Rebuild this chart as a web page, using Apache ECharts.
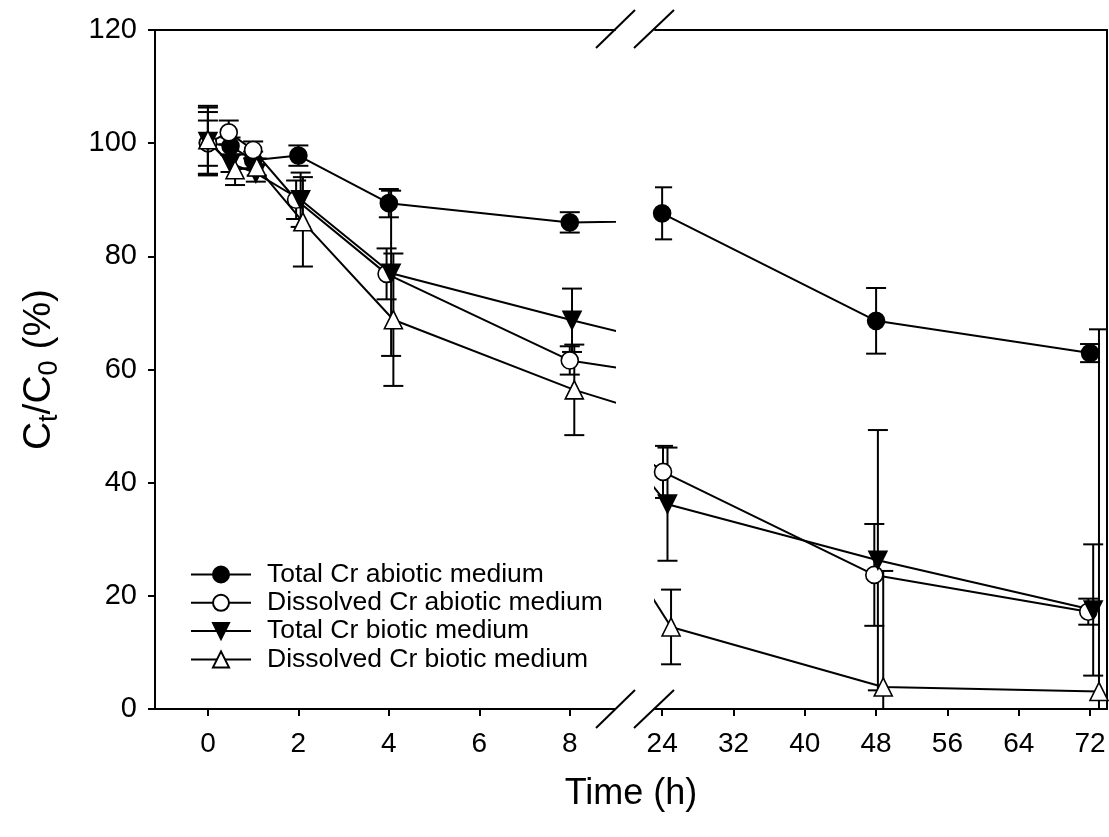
<!DOCTYPE html>
<html><head><meta charset="utf-8">
<script src="https://cdn.jsdelivr.net/npm/echarts@6/dist/echarts.min.js"></script>
<style>html,body{margin:0;padding:0;background:#fff}#c{width:1109px;height:837px}</style>
</head><body><div id="c"></div>
<script>
// ---- data ----
const seriesNames = ['Total Cr abiotic medium','Dissolved Cr abiotic medium','Total Cr biotic medium','Dissolved Cr biotic medium'];
const tTotAb  = [0, 0.5, 1, 2, 4, 8, 24, 48, 72];
const tDisAb  = [0, 0.46, 1, 1.95, 3.95, 8, 24.1, 47.8, 71.8];
const tTotBio = [0, 0.5, 1.06, 2.05, 4.05, 8.05, 24.6, 48.2, 72.35];
const tDisBio = [0, 0.6, 1.08, 2.1, 4.1, 8.1, 25.0, 48.8, 73.0];
const totAb     = [100, 99.5, 97, 97.8, 89.4, 86.0, 87.6, 68.6, 62.9];
const totAbErr  = [4, 1.5, 1.5, 1.8, 2.5, 1.8, 4.6, 5.8, 1.6];
const disAb     = [100, 101.9, 98.8, 90.0, 76.9, 61.6, 41.9, 23.7, 17.2];
const disAbErr  = [5.5, 2.1, 1.5, 3.4, 4.5, 2.5, 4.6, 9, 2.3];
const totBio    = [100.3, 96.4, 94.7, 90.0, 77.0, 68.7, 36.2, 26.3, 17.5];
const totBioErr = [6, 1.5, 1.5, 4.8, 14.6, 5.6, 10, 23, 11.6];
const disBio    = [100.6, 95.3, 95.8, 86.1, 68.8, 56.4, 14.5, 3.9, 3.1];
const disBioErr = [6, 2.7, 1.5, 7.9, 11.7, 8, 6.6, 20.5, 64];
const xTicksLeft  = [0, 2, 4, 6, 8];
const xTicksRight = [24, 32, 40, 48, 56, 64, 72];

const FONT = 'Arial, "Liberation Sans", sans-serif';
const sets = [
  {name: seriesNames[0], t: tTotAb, v: totAb, e: totAbErr, symbol: 'circle', rot: 0, fill: '#000', size: 17},
  {name: seriesNames[1], t: tDisAb, v: disAb, e: disAbErr, symbol: 'circle', rot: 0, fill: '#fff', size: 17},
  {name: seriesNames[2], t: tTotBio, v: totBio, e: totBioErr, symbol: 'triangle', rot: 180, fill: '#000', size: 18},
  {name: seriesNames[3], t: tDisBio, v: disBio, e: disBioErr, symbol: 'triangle', rot: 0, fill: '#fff', size: 18}
];

function errRender(params, api) {
  const x = api.value(0), y = api.value(1), e = api.value(2);
  const top = api.coord([x, y + e]);
  const bot = api.coord([x, y - e]);
  const h = 10;
  const st = {stroke: '#000', lineWidth: 2};
  return {type: 'group', children: [
    {type: 'line', shape: {x1: top[0], y1: top[1], x2: bot[0], y2: bot[1]}, style: st},
    {type: 'line', shape: {x1: top[0] - h, y1: top[1], x2: top[0] + h, y2: top[1]}, style: st},
    {type: 'line', shape: {x1: bot[0] - h, y1: bot[1], x2: bot[0] + h, y2: bot[1]}, style: st}
  ]};
}

const series = [];
[0, 1].forEach(gi => {
  sets.forEach(s => {
    series.push({
      type: 'custom', name: s.name + ' err', xAxisIndex: gi * 2, yAxisIndex: gi * 2,
      renderItem: errRender, clip: true, z: 1, silent: true,
      data: s.t.map((t, i) => [t, s.v[i], s.e[i]])
    });
  });
  sets.forEach(s => {
    series.push({
      type: 'line', name: s.name, xAxisIndex: gi * 2, yAxisIndex: gi * 2,
      clip: true, z: 3, symbol: s.symbol, symbolRotate: s.rot, symbolSize: s.size, showSymbol: true,
      lineStyle: {color: '#000', width: 2},
      itemStyle: {color: s.fill, borderColor: '#000', borderWidth: 1.6},
      emphasis: {disabled: true}, animation: false,
      data: s.t.map((t, i) => [t, s.v[i]])
    });
  });
});

const axisLineStyle = {show: true, onZero: false, lineStyle: {color: '#000', width: 2}};
const tickStyle = {show: true, inside: false, length: 7, lineStyle: {color: '#000', width: 2}};
const xLabelStyle = {color: '#000', fontSize: 28, fontFamily: FONT};
const yLabelStyle = {color: '#000', fontSize: 29, fontFamily: FONT};
const option = {
  animation: false,
  backgroundColor: '#fff',
  textStyle: {fontFamily: FONT},
  grid: [
    {left: 155, right: 1109 - 615, top: 30, bottom: 128},
    {left: 655, right: 2, top: 30, bottom: 128}
  ],
  xAxis: [
    {type: 'value', gridIndex: 0, position: 'bottom', min: -1.17, max: 9.0,
     axisLine: axisLineStyle, splitLine: {show: false},
     axisTick: Object.assign({}, tickStyle, {customValues: xTicksLeft}),
     axisLabel: Object.assign({show: true, margin: 21, customValues: xTicksLeft}, xLabelStyle)},
    {type: 'value', gridIndex: 0, position: 'top', min: -1.17, max: 9.0,
     axisLine: axisLineStyle, splitLine: {show: false}, axisTick: {show: false}, axisLabel: {show: false}},
    {type: 'value', gridIndex: 1, position: 'bottom', min: 23.2, max: 73.9,
     axisLine: axisLineStyle, splitLine: {show: false},
     axisTick: Object.assign({}, tickStyle, {customValues: xTicksRight}),
     axisLabel: Object.assign({show: true, margin: 21, customValues: xTicksRight}, xLabelStyle)},
    {type: 'value', gridIndex: 1, position: 'top', min: 23.2, max: 73.9,
     axisLine: axisLineStyle, splitLine: {show: false}, axisTick: {show: false}, axisLabel: {show: false}}
  ],
  yAxis: [
    {type: 'value', gridIndex: 0, position: 'left', min: 0, max: 120, interval: 20,
     axisLine: axisLineStyle, splitLine: {show: false},
     axisTick: tickStyle,
     axisLabel: Object.assign({margin: 18}, yLabelStyle),
     name: '{a|C}{s|t}{a|/C}{s|0}{a| (%)}', nameLocation: 'middle', nameRotate: 90, nameGap: 92,
     nameTextStyle: {rich: {
       a: {fontSize: 39, fontFamily: FONT, color: '#000', lineHeight: 48, verticalAlign: 'middle'},
       s: {fontSize: 27, fontFamily: FONT, color: '#000', lineHeight: 48, verticalAlign: 'bottom'}}}},
    {type: 'value', gridIndex: 0, position: 'right', min: 0, max: 120, show: false},
    {type: 'value', gridIndex: 1, position: 'left', min: 0, max: 120, show: false},
    {type: 'value', gridIndex: 1, position: 'right', min: 0, max: 120,
     axisLine: axisLineStyle, splitLine: {show: false}, axisTick: {show: false}, axisLabel: {show: false}}
  ],
  legend: {
    show: true, orient: 'vertical', left: 185, top: 556,
    data: seriesNames, itemWidth: 60, itemHeight: 20, itemGap: 1.3,
    selectedMode: false,
    textStyle: {fontSize: 26.5, lineHeight: 27, fontFamily: FONT, color: '#000', padding: [0, 0, 0, 11]}
  },
  graphic: [
    {type: 'line', shape: {x1: 596, y1: 48, x2: 635, y2: 10}, style: {stroke: '#000', lineWidth: 2}},
    {type: 'line', shape: {x1: 634, y1: 48, x2: 674, y2: 10}, style: {stroke: '#000', lineWidth: 2}},
    {type: 'line', shape: {x1: 596, y1: 728, x2: 635, y2: 690}, style: {stroke: '#000', lineWidth: 2}},
    {type: 'line', shape: {x1: 634, y1: 728, x2: 674, y2: 690}, style: {stroke: '#000', lineWidth: 2}},
    {type: 'text', x: 631, y: 794, style: {text: 'Time (h)', fontSize: 36, fontFamily: FONT, fill: '#000', textAlign: 'center', textVerticalAlign: 'middle'}}
  ],
  series: series
};
const chart = echarts.init(document.getElementById('c'), null, {renderer: 'canvas'});
chart.setOption(option);
</script>
</body></html>
